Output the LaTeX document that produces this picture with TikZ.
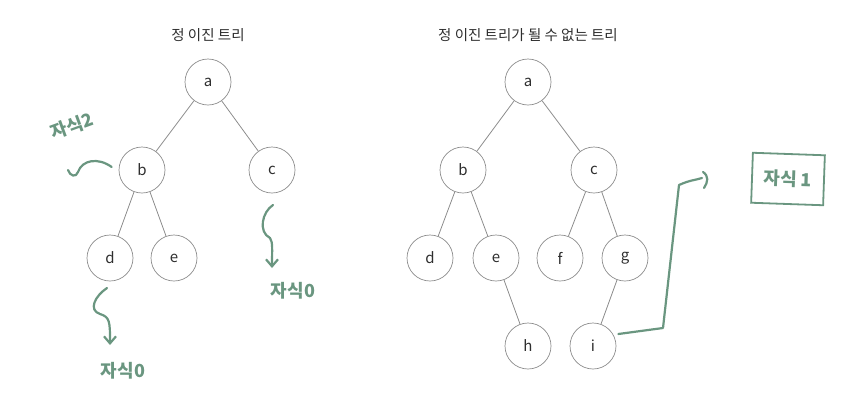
\documentclass[tikz,border=0pt]{standalone}
\usepackage{fontspec}
\setmainfont{Noto Sans CJK KR}
\usetikzlibrary{
  arrows.meta,
  positioning,
  calc
}
\definecolor{trLine}{HTML}{8C8C8C}
\definecolor{trText}{HTML}{2E2E2E}
\definecolor{penGreen}{HTML}{6A9680}
\tikzset{
  treenode/.style={
    draw=trLine, circle, minimum size=46pt, inner sep=0pt,
    font=\fontsize{15}{15}\selectfont, text=trText, line width=0.7pt
  },
  treeedge/.style={draw=trLine, line width=0.8pt},
  title/.style={font=\fontsize{14.5}{14.5}\selectfont, text=trText},
  pen/.style={draw=penGreen, line width=2.2pt, line cap=round, line join=round},
  pentip/.style={pen, -{Straight Barb[length=7pt, width=12pt, line width=2.2pt]}},
  note/.style={font=\fontsize{18}{18}\selectfont\bfseries, text=penGreen, inner sep=1pt}
}
\begin{document}
\begin{tikzpicture}[x=1pt, y=-1pt]
  \useasboundingbox (0,0) rectangle (862,408);

  % full binary tree
  \node[title] (ltitle) at (208,35) {정 이진 트리};
  \node[treenode] (la) at (208,82) {a};
  \node[treenode] (lb) at (142,170) {b};
  \node[treenode] (lc) at (272,170) {c};
  \node[treenode] (ld) at (110,258) {d};
  \node[treenode] (le) at (174,258) {e};
  \foreach \p/\q in {la/lb, la/lc, lb/ld, lb/le}
    \draw[treeedge] (\p) -- (\q);

  % not a full binary tree
  \node[title] (rtitle) at (528,35) {정 이진 트리가 될 수 없는 트리};
  \node[treenode] (ra) at (528,82) {a};
  \node[treenode] (rb) at (463,170) {b};
  \node[treenode] (rc) at (594,170) {c};
  \node[treenode] (rd) at (430,258) {d};
  \node[treenode] (re) at (496,258) {e};
  \node[treenode] (rf) at (560,258) {f};
  \node[treenode] (rg) at (625,258) {g};
  \node[treenode] (rh) at (528,346) {h};
  \node[treenode] (ri) at (593,346) {i};
  \foreach \p/\q in {ra/rb, ra/rc, rb/rd, rb/re, rc/rf, rc/rg, re/rh, rg/ri}
    \draw[treeedge] (\p) -- (\q);

  % handwritten notes
  \node[note, rotate=20] (nb) at (72,126) {자식2};
  \draw[pen] ($(lb.west)+(-7,-3)$) .. controls (98,157) and (82,160) .. (78,172)
    .. controls (76,178) and (70,176) .. (68,170);

  \coordinate (dtop) at (107,288);
  \node[note] (nd) at (123,371) {자식0};
  \draw[pentip] (dtop) .. controls (95,296) and (88,310) .. (100,314)
    .. controls (110,317) and (110,322) .. (110,345);

  \coordinate (ctop) at (273,205);
  \node[note] (nc) at (293,291) {자식0};
  \draw[pentip] (ctop) .. controls (262,212) and (258,232) .. (270,238)
    .. controls (273,242) and (272,250) .. (272,268);

  \node[note, draw=penGreen, line width=1.8pt, minimum width=72pt, minimum height=50pt,
        rotate=-2] (ng) at (788,179) {자식 1};
  \coordinate (ibend) at (663,328);
  \coordinate (itop) at (679,185);
  \draw[pen] ($(ri.east)+(2,-12)$) -- (ibend) -- (itop)
    .. controls (690,180) and (696,180) .. (702,178);
  \draw[pen] (703,172) .. controls (709,176) and (708,182) .. (704,188);
\end{tikzpicture}
\end{document}
